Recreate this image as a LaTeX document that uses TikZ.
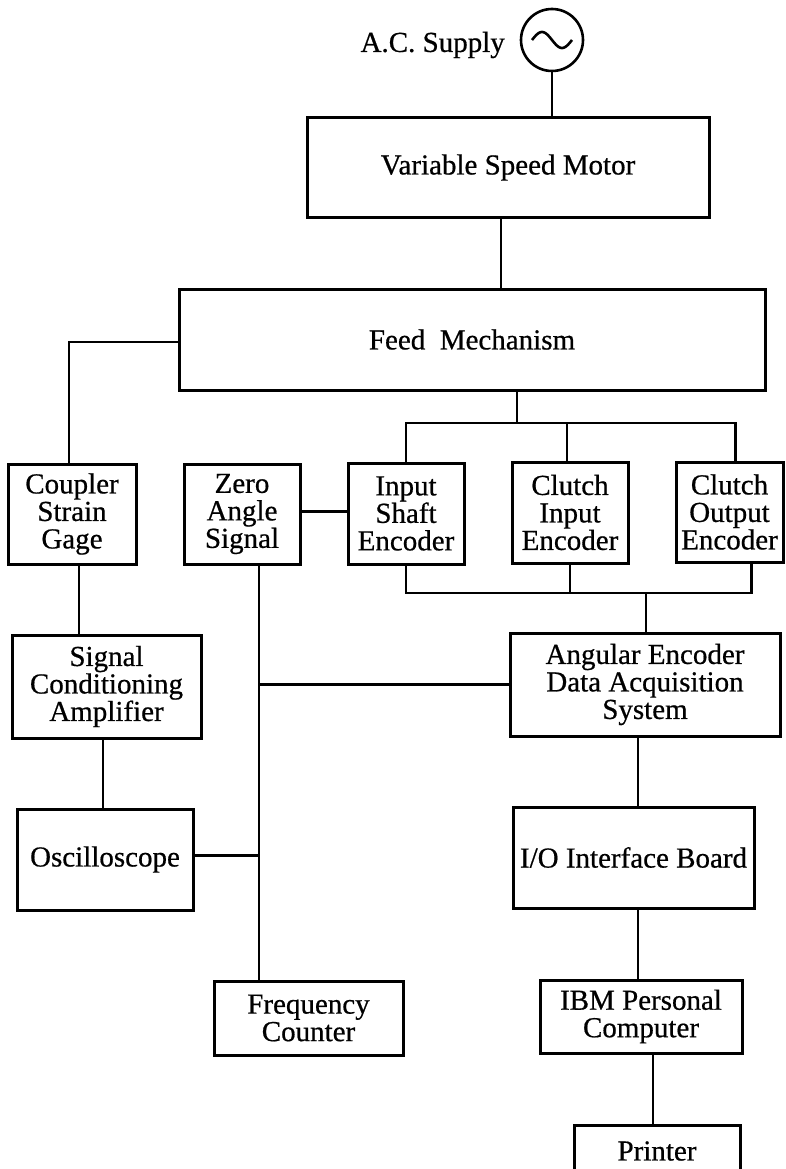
\documentclass[tikz,border=0pt]{standalone}
\usepackage{fontspec}
\setmainfont{Liberation Serif}[FakeBold=0.6]
\begin{document}
\begin{tikzpicture}[x=1pt,y=-1pt,
  box/.style={draw, line width=3pt, rectangle, inner sep=0pt, align=center,
    font=\fontsize{29}{27.5}\selectfont},
  wire/.style={line width=2.2pt},
  lbl/.style={inner sep=0pt, font=\fontsize{29}{27.5}\selectfont}]
\useasboundingbox (0,0) rectangle (785,1169);
\fill[white] (0,0) rectangle (785,1169);
\clip (0,0) rectangle (785,1169);

% A.C. supply
\node[circle, draw, line width=2.6pt, minimum size=62pt, inner sep=0pt] (ac) at (552,40) {};
\draw[line width=2.6pt] plot[domain=0:360, samples=40] ({532+40*\x/360}, {40-8*sin(\x)});
\node[lbl, anchor=east] (acl) at (505,45) {A.C. Supply};

% boxes
\node[box, minimum width=402pt, minimum height=99pt] (motor) at (508,167.5) {Variable Speed Motor};
\node[box, minimum width=586pt, minimum height=101pt] (feed) at (472,339.5) {Feed\ \ Mechanism};
\node[box, minimum width=128pt, minimum height=100pt] (coupler) at (72,514) {Coupler\\Strain\\Gage};
\node[box, minimum width=116pt, minimum height=100pt] (zero) at (242,514) {Zero\\Angle\\Signal};
\node[box, minimum width=116pt, minimum height=101pt] (input) at (406,513.5) {Input\\Shaft\\Encoder};
\node[box, minimum width=116pt, minimum height=101pt] (clin) at (570,512.5) {Clutch\\Input\\Encoder};
\node[box, minimum width=107pt, minimum height=100pt] (clout) at (729.5,512) {Clutch\\Output\\Encoder};
\node[box, minimum width=189pt, minimum height=103pt] (sig) at (106.5,686.5) {Signal\\Conditioning\\Amplifier};
\node[box, minimum width=270pt, minimum height=103pt] (ang) at (645,684.5) {Angular Encoder\\Data Acquisition\\System};
\node[box, minimum width=176pt, minimum height=101pt] (osc) at (105,859.5) {Oscilloscope};
\node[box, minimum width=241pt, minimum height=101pt] (io) at (633.5,857.5) {I/O Interface Board};
\node[box, minimum width=189pt, minimum height=74pt] (freq) at (308.5,1018) {Frequency\\Counter};
\node[box, minimum width=202pt, minimum height=73pt] (ibm) at (641,1016.5) {IBM Personal\\Computer};
\node[box, minimum width=166pt, minimum height=52pt] (printer) at (657,1151) {Printer};

% connectors
\draw[wire] (ac.south) -- (ac.south |- motor.north);
\draw[wire] ([xshift=-7pt]motor.south) -- ([xshift=-7pt]motor.south |- feed.north);
\draw[wire] ([yshift=-2.5pt]feed.west) -| ([xshift=-3pt]coupler.north);

\coordinate (bar) at (517,423);
\draw[wire] ([xshift=45pt]feed.south) -- (bar);
\draw[wire] (input.north) |- ([xshift=6pt]clout.north |- bar) -- ([xshift=6pt]clout.north);
\draw[wire] ([xshift=-3pt]clin.north) -- ([xshift=-3pt]clin.north |- bar);

\coordinate (bar2) at (646,593);
\draw[wire] (input.south) |- ([xshift=22pt]clout.south |- bar2) -- ([xshift=22pt]clout.south);
\draw[wire] (clin.south) -- (clin.south |- bar2);
\draw[wire] (bar2) -- (bar2 |- ang.north);

\draw[wire] ([yshift=2.5pt]zero.east) -- ([yshift=2.5pt]zero.east -| input.west);
\draw[wire] ([xshift=7pt]coupler.south) -- ([xshift=7pt]coupler.south |- sig.north);
\draw[wire] ([xshift=-3.5pt]sig.south) -- ([xshift=-3.5pt]sig.south |- osc.north);

\coordinate (vz) at ([xshift=17pt]zero.south);
\draw[wire] (vz) -- (vz |- freq.north);
\draw[wire] (ang.west) -- (ang.west -| vz);
\draw[wire] ([yshift=4pt]osc.east) -- ([yshift=4pt]osc.east -| vz);

\draw[wire] ([xshift=-7pt]ang.south) -- ([xshift=-7pt]ang.south |- io.north);
\draw[wire] ([xshift=4.5pt]io.south) -- ([xshift=4.5pt]io.south |- ibm.north);
\draw[wire] ([xshift=12pt]ibm.south) -- ([xshift=12pt]ibm.south |- printer.north);
\end{tikzpicture}
\end{document}
